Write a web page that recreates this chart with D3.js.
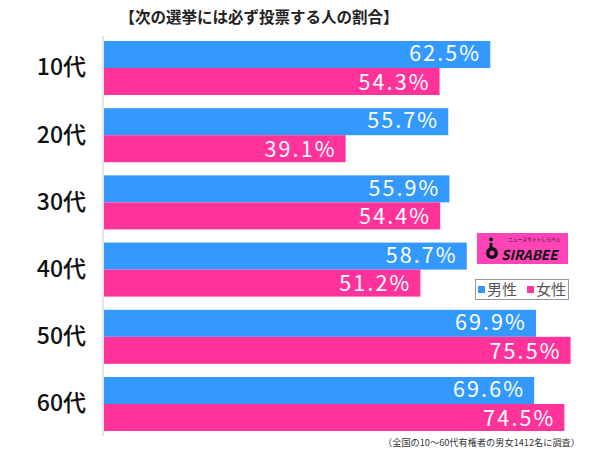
<!DOCTYPE html>
<html>
<head>
<meta charset="utf-8">
<script src="https://cdn.jsdelivr.net/npm/d3@7"></script>
<style>
body{margin:0;background:#fff;}
svg{display:block;}
text{font-family:"Noto Sans CJK JP","Noto Sans",sans-serif;}
</style>
</head>
<body>
<svg id="c" width="600" height="449"></svg>
<script>
const categories = ["10代","20代","30代","40代","50代","60代"];
const male = [62.5,55.7,55.9,58.7,69.9,69.6];
const female = [54.3,39.1,54.4,51.2,75.5,74.5];
const seriesNames = ["男性","女性"];
const colors = ["#3399ff","#ff3399"];
const title = "【次の選挙には必ず投票する人の割合】";
const note = "（全国の10～60代有権者の男女1412名に調査）";

const svg = d3.select("#c");
const x = d3.scaleLinear().domain([0,100]).range([104,722]);
const y = d3.scaleBand().domain(categories).range([34.4,437.6]).paddingInner(0.196).paddingOuter(0.098);
const sub = d3.scaleBand().domain([0,1]).range([0,y.bandwidth()]);

svg.append("text").attr("x",259).attr("y",23).attr("text-anchor","middle")
  .attr("font-size",15.5).attr("font-weight","bold").attr("fill","#222").text(title);

const data = categories.map((c,i)=>({c, vals:[male[i],female[i]]}));
const g = svg.selectAll("g.grp").data(data).join("g").attr("class","grp")
  .attr("transform",d=>`translate(0,${y(d.c)})`);
g.selectAll("rect").data(d=>d.vals).join("rect")
  .attr("x",x(0)).attr("y",(d,i)=>sub(i)).attr("width",d=>x(d)-x(0))
  .attr("height",sub.bandwidth()).attr("fill",(d,i)=>colors[i]);
g.selectAll("text.v").data(d=>d.vals).join("text").attr("class","v")
  .attr("x",d=>x(d)-9).attr("y",(d,i)=>sub(i)+sub.bandwidth()/2)
  .attr("dy",(d,i)=>i===0?"0.31em":"0.39em").attr("text-anchor","end").attr("fill","#fff")
  .attr("font-size",21.5).attr("letter-spacing",2.1)
  .attr("font-family","'Liberation Sans',Arial,sans-serif").text(d=>d.toFixed(1)+"%");

// category axis
const ax = svg.append("g").attr("transform",`translate(${x(0)-1},0)`)
  .call(d3.axisLeft(y).tickSize(0).tickPadding(17));
ax.select(".domain").attr("stroke","#ddd").attr("stroke-width",1.5).attr("d","M0,36V436");
ax.selectAll("text").attr("font-size",23).attr("font-weight",500).attr("fill","#111")
  .attr("font-family","'Noto Sans CJK JP',sans-serif");

// logo
const lg = svg.append("g");
lg.append("rect").attr("x",477).attr("y",233).attr("width",91).attr("height",31).attr("fill","#ff44b8");
lg.append("text").attr("x",501).attr("y",259.5).attr("font-size",13.5).attr("font-weight","bold")
  .attr("font-style","italic").attr("font-family","'DejaVu Sans',sans-serif").attr("fill","#111").text("SIRABEE");
lg.append("text").attr("x",508).attr("y",241).attr("font-size",4.8).attr("fill","#111").text("ニュースサイトしらべぇ");
lg.append("circle").attr("cx",492).attr("cy",253).attr("r",6).attr("fill","#111");
lg.append("circle").attr("cx",491).attr("cy",239.5).attr("r",2).attr("fill","#111");
lg.append("rect").attr("x",489.5).attr("y",243).attr("width",3).attr("height",9).attr("fill","#111");
lg.append("circle").attr("cx",492).attr("cy",253).attr("r",2.5).attr("fill","#ff44b8");

// legend
const leg = svg.append("g");
leg.append("rect").attr("x",475.5).attr("y",279.5).attr("width",93).attr("height",20)
  .attr("fill","#fff").attr("stroke","#999");
const li = leg.selectAll("g").data(seriesNames).join("g")
  .attr("transform",(d,i)=>`translate(${478+i*49},0)`);
li.append("rect").attr("y",286).attr("width",7).attr("height",7).attr("fill",(d,i)=>colors[i]);
li.append("text").attr("x",9).attr("y",290).attr("dy","0.36em").attr("font-size",15).attr("fill","#555").text(d=>d);

svg.append("text").attr("x",580).attr("y",443).attr("dy","0.36em").attr("text-anchor","end")
  .attr("font-size",9.2).attr("fill","#333").text(note);
</script>
</body>
</html>
